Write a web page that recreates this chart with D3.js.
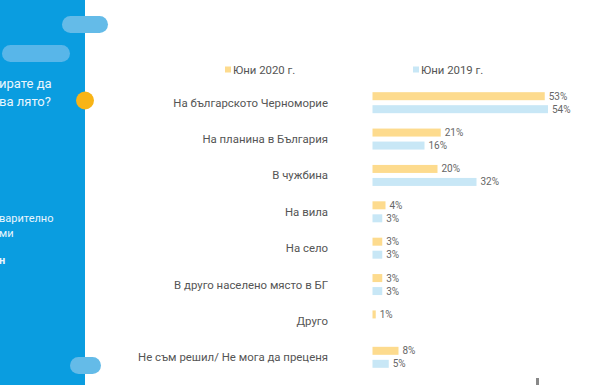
<!DOCTYPE html>
<html>
<head>
<meta charset="utf-8">
<script src="https://cdn.jsdelivr.net/npm/d3@7"></script>
<style>
  body { margin: 0; background: #fff; }
  svg { display: block; font-family: Roboto, "Noto Sans", sans-serif; }
</style>
</head>
<body>
<div id="chart"></div>
<script>
// categories and values (percent)
var categories = ["На българското Черноморие", "На планина в България", "В чужбина", "На вила",
                  "На село", "В друго населено място в БГ", "Друго", "Не съм решил/ Не мога да преценя"];
var june2020 = [53, 21, 20, 4, 3, 3, 1, 8];
var june2019 = [54, 16, 32, 3, 3, 3, 0, 5];
var seriesNames = ["Юни 2020 г.", "Юни 2019 г."];
var seriesColors = ["#fddb8e", "#c8e7f6"];

var width = 600, height = 385;

var svg = d3.select("#chart")
  .append("svg")
  .attr("width", width)
  .attr("height", height);

// left blue panel (slide decoration)
svg.append("rect")
  .attr("x", 0).attr("y", 0)
  .attr("width", 85).attr("height", height)
  .attr("fill", "#0a9de0");

svg.append("rect")
  .attr("x", 62).attr("y", 16).attr("width", 46).attr("height", 17)
  .attr("rx", 8.5).attr("fill", "#64bbe8");
svg.append("rect")
  .attr("x", 2).attr("y", 45).attr("width", 68).attr("height", 17)
  .attr("rx", 8.5).attr("fill", "#58b6e9");
svg.append("rect")
  .attr("x", 70).attr("y", 357).attr("width", 31).attr("height", 17)
  .attr("rx", 8.5).attr("fill", "#64bbe8");
svg.append("circle")
  .attr("cx", 85).attr("cy", 100.5).attr("r", 9)
  .attr("fill", "#f8b416");

var panelText = [
  {t: "ирате да", y: 88, s: 13, w: 400},
  {t: "ва лято?", y: 106, s: 13, w: 400},
  {t: "варително", y: 222, s: 11, w: 400},
  {t: "ми", y: 237, s: 11, w: 400},
  {t: "н", y: 264, s: 11, w: 700}
];
svg.selectAll("text.panel")
  .data(panelText)
  .enter()
  .append("text")
    .attr("class", "panel")
    .attr("x", -1)
    .attr("y", function(d) { return d.y; })
    .style("font-size", function(d) { return d.s + "px"; })
    .style("font-weight", function(d) { return d.w; })
    .style("fill", "#eaf6fd")
    .text(function(d) { return d.t; });

// scales
var x = d3.scaleLinear()
  .domain([0, 54])
  .range([372.5, 548]);

var y = d3.scaleBand()
  .domain(categories)
  .range([84.5, 375.5])
  .paddingInner(0)
  .paddingOuter(0);

var barH = 8, barGap = 5;

// category labels
svg.selectAll("text.cat")
  .data(categories)
  .enter()
  .append("text")
    .attr("class", "cat")
    .attr("x", 328)
    .attr("y", function(d) { return y(d) + y.bandwidth() / 2; })
    .attr("dy", "0.35em")
    .attr("text-anchor", "end")
    .style("font-size", "11.4px")
    .style("fill", "#555")
    .text(function(d) { return d; });

var series = [june2020, june2019];
series.forEach(function(vals, si) {
  var rows = categories.map(function(c, i) { return {cat: c, v: vals[i]}; })
    .filter(function(d) { return d.v > 0; });
  var off = si == 0 ? -barGap / 2 - barH : barGap / 2;

  svg.selectAll("rect.bar" + si)
    .data(rows)
    .enter()
    .append("rect")
      .attr("class", "bar" + si)
      .attr("x", x(0))
      .attr("y", function(d) { return y(d.cat) + y.bandwidth() / 2 + off; })
      .attr("width", function(d) { return x(d.v) - x(0); })
      .attr("height", barH)
      .attr("fill", seriesColors[si]);

  svg.selectAll("text.val" + si)
    .data(rows)
    .enter()
    .append("text")
      .attr("class", "val" + si)
      .attr("x", function(d) { return x(d.v) + 4; })
      .attr("y", function(d) { return y(d.cat) + y.bandwidth() / 2 + off + barH / 2; })
      .attr("dy", "0.35em")
      .style("font-size", "10px")
      .style("fill", "#666")
      .text(function(d) { return d.v + "%"; });
});

// legend
var legendX = [225, 413];
seriesNames.forEach(function(name, i) {
  svg.append("rect")
    .attr("x", legendX[i]).attr("y", 66.5)
    .attr("width", 6).attr("height", 6)
    .attr("fill", seriesColors[i]);
  svg.append("text")
    .attr("x", legendX[i] + 8)
    .attr("y", 70)
    .attr("dy", "0.35em")
    .style("font-size", "11.4px")
    .style("fill", "#555")
    .text(name);
});

// small logo fragment bottom right
svg.append("rect")
  .attr("x", 536).attr("y", 378).attr("width", 3).attr("height", 7)
  .attr("fill", "#888");
</script>
</body>
</html>
